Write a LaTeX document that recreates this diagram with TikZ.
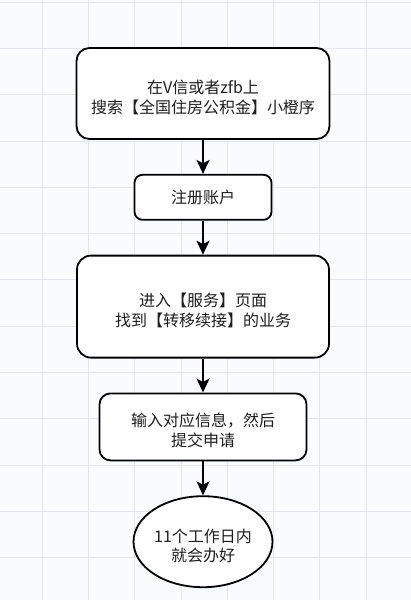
\documentclass[tikz,border=0pt]{standalone}
\usepackage{fontspec}
\setmainfont{Noto Sans CJK SC}
\usetikzlibrary{arrows.meta, positioning, shapes.geometric}

\definecolor{paper}{HTML}{F9FBFD}
\definecolor{gridgray}{HTML}{E4E8EE}
\definecolor{inkdark}{HTML}{1E1E1E}

\begin{document}
\begin{tikzpicture}[
    x=1pt, y=-1pt,
    node distance=34pt,
    stepbox/.style={rectangle, draw, line width=1.8pt, rounded corners=#1, fill=white,
        align=center, inner sep=0pt, text=inkdark, font=\fontsize{16}{20}\selectfont},
    stepbox/.default=10pt,
    twolines/.style={text height=44pt, text depth=4pt},
    endstate/.style={ellipse, draw, line width=1.8pt, fill=white, align=center,
        inner sep=0pt, text=inkdark, font=\fontsize{16}{19}\selectfont,
        minimum width=139pt, minimum height=91pt},
    flow/.style={line width=1.8pt, -{Stealth[length=14pt, width=13pt, inset=3.5pt]}}
]
    % page and grid
    \fill[paper] (0,0) rectangle (411,600);
    \useasboundingbox (0,0) rectangle (411,600);
    \foreach \gx in {0,...,7}
        \draw[gridgray, line width=0.8pt] ({42+46.3*\gx},0) -- ({42+46.3*\gx},600);
    \foreach \gy in {0,...,12}
        \draw[gridgray, line width=0.8pt] (0,{2+46.3*\gy}) -- (411,{2+46.3*\gy});

    \node[stepbox=13pt, twolines, minimum width=253pt, minimum height=91pt] (search) at (203,93.5)
        {在V信或者zfb上\\搜索【全国住房公积金】小橙序};
    \node[stepbox=8pt, minimum width=137pt, minimum height=45pt, below=of search] (register)
        {注册账户};
    \node[stepbox=14pt, twolines, minimum width=252pt, minimum height=102pt, below=of register] (service)
        {进入【服务】页面\\找到【转移续接】的业务};
    \node[stepbox=11pt, twolines, minimum width=207pt, minimum height=67pt, below=of service] (submit)
        {输入对应信息，然后\\提交申请};
    \node[endstate, twolines, below=of submit] (done) {11个工作日内\\就会办好};

    \draw[flow] (search) -- (register);
    \draw[flow] (register) -- (service);
    \draw[flow] (service) -- (submit);
    \draw[flow] (submit) -- (done);
\end{tikzpicture}
\end{document}
